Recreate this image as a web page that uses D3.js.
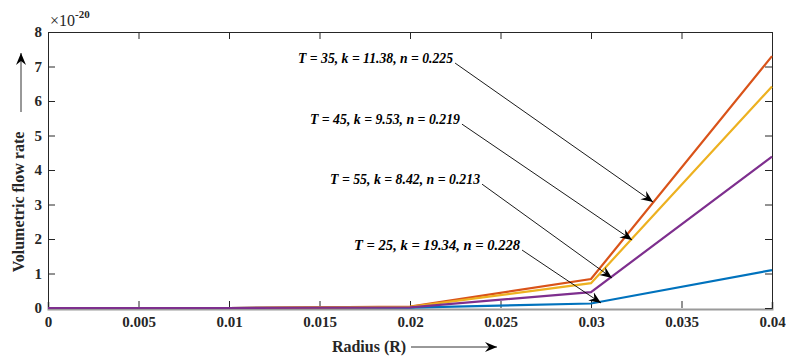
<!DOCTYPE html>
<html>
<head>
<meta charset="utf-8">
<script src="https://cdn.jsdelivr.net/npm/d3@7"></script>
<style>
  body { margin: 0; background: #fff; }
  text { font-family: "Liberation Serif", "Times New Roman", serif; }
</style>
</head>
<body>
<svg id="chart" width="786" height="356"></svg>
<script>
// radius values (x) and flow rate (x 1e-20) for each temperature
const radius = [0, 0.01, 0.02, 0.03, 0.04];
const q25 = [0, 0, 0.01, 0.13, 1.10];
const q35 = [0, 0, 0.04, 0.84, 7.30];
const q45 = [0, 0, 0.03, 0.72, 6.42];
const q55 = [0, 0, 0.02, 0.46, 4.39];
const seriesNames = ["T = 25, k = 19.34, n = 0.228", "T = 35, k = 11.38, n = 0.225",
  "T = 45, k = 9.53, n = 0.219", "T = 55, k = 8.42, n = 0.213"];
const xTicks = [0, 0.005, 0.01, 0.015, 0.02, 0.025, 0.03, 0.035, 0.04];
const yTicks = [0, 1, 2, 3, 4, 5, 6, 7, 8];

const colors = ["#0072BD", "#D95319", "#EDB120", "#7E2F8E"];

const svg = d3.select("#chart");
const x = d3.scaleLinear().domain([0, 0.04]).range([48, 772]);
const y = d3.scaleLinear().domain([0, 8]).range([308, 32]);

const defs = svg.append("defs");
defs.append("marker")
  .attr("id", "head")
  .attr("viewBox", "-12 -6 14 12")
  .attr("markerWidth", 14).attr("markerHeight", 12)
  .attr("markerUnits", "userSpaceOnUse")
  .attr("refX", 0).attr("refY", 0)
  .attr("orient", "auto")
  .append("path").attr("d", "M0,0 L-12,-5 L-8,0 L-12,5 Z").attr("fill", "#000");

// axes
const axisCol = "#262626";
const gx = svg.append("g").attr("transform", `translate(0,${y(0)})`)
  .call(d3.axisBottom(x).tickValues(xTicks).tickSize(-7).tickPadding(8)
    .tickFormat(d => d === 0 ? "0" : d3.format("")(+d.toFixed(3))));
const gxTop = svg.append("g").attr("transform", `translate(0,${y(8)})`)
  .call(d3.axisTop(x).tickValues(xTicks).tickSize(-7).tickFormat(""));
const gy = svg.append("g").attr("transform", `translate(${x(0)},0)`)
  .call(d3.axisLeft(y).tickValues(yTicks).tickSize(-7).tickPadding(6));
const gyR = svg.append("g").attr("transform", `translate(${x(0.04)},0)`)
  .call(d3.axisRight(y).tickValues(yTicks).tickSize(-7).tickFormat(""));

[gx, gxTop, gy, gyR].forEach(g => {
  g.select(".domain").attr("stroke", axisCol).attr("stroke-width", 1);
  g.selectAll(".tick line").attr("stroke", axisCol);
  g.selectAll("text")
    .attr("fill", "#262626")
    .style("font-family", '"Liberation Serif", serif')
    .style("font-weight", "bold")
    .style("font-size", "15px");
});
gx.select(".domain").attr("stroke", "#9a9a9a").attr("stroke-width", 2)
  .attr("transform", "translate(0,1)");

// series lines
const all = [q25, q35, q45, q55];
const line = d3.line().x((d, i) => x(radius[i])).y(d => y(d));
all.forEach((s, i) => {
  svg.append("path").datum(s)
    .attr("d", line)
    .attr("fill", "none")
    .attr("stroke", colors[i])
    .attr("stroke-width", 2.2);
});

// exponent
const ex = svg.append("text").attr("x", x(0) + 2).attr("y", 26)
  .style("font-size", "16px").attr("fill", "#262626");
ex.append("tspan").text("\u00d710");
ex.append("tspan").attr("dy", -8).style("font-size", "11px").style("font-weight", "bold").text("-20");

// axis labels with arrows
svg.append("text")
  .attr("x", 369).attr("y", 352)
  .attr("text-anchor", "middle")
  .style("font-size", "16px").style("font-weight", "bold")
  .attr("fill", "#262626")
  .text("Radius (R)");
svg.append("line")
  .attr("x1", 411).attr("y1", 347).attr("x2", 497).attr("y2", 347)
  .attr("stroke", "#333").attr("stroke-width", 1)
  .attr("marker-end", "url(#head)");

svg.append("text")
  .attr("transform", "translate(24,202) rotate(-90)")
  .attr("text-anchor", "middle")
  .style("font-size", "16px").style("font-weight", "bold")
  .attr("fill", "#262626")
  .text("Volumetric flow rate");
svg.append("line")
  .attr("x1", 21).attr("y1", 112).attr("x2", 21).attr("y2", 53)
  .attr("stroke", "#333").attr("stroke-width", 1)
  .attr("marker-end", "url(#head)");

// annotations: label index, text anchor point and arrow tip in data units
const notes = [
  { s: 1, from: [0.02249, 7.10], to: [0.03343, 3.07], w: 155 },
  { s: 2, from: [0.02287, 5.33], to: [0.03227, 1.97], w: 150 },
  { s: 3, from: [0.02398, 3.59], to: [0.03116, 0.87], w: 150 },
  { s: 0, from: [0.02619, 1.68], to: [0.03055, 0.145], w: 166 }
];
notes.forEach(n => {
  svg.append("line")
    .attr("x1", x(n.from[0])).attr("y1", y(n.from[1]))
    .attr("x2", x(n.to[0])).attr("y2", y(n.to[1]))
    .attr("stroke", "#000").attr("stroke-width", 0.9)
    .attr("marker-end", "url(#head)");
  svg.append("text")
    .attr("x", x(n.from[0]) - 2).attr("y", y(n.from[1]))
    .attr("text-anchor", "end")
    .attr("textLength", n.w).attr("lengthAdjust", "spacingAndGlyphs")
    .style("font-size", "15.5px").style("font-weight", "bold").style("font-style", "italic")
    .attr("fill", "#000")
    .text(seriesNames[n.s]);
});
</script>
</body>
</html>
